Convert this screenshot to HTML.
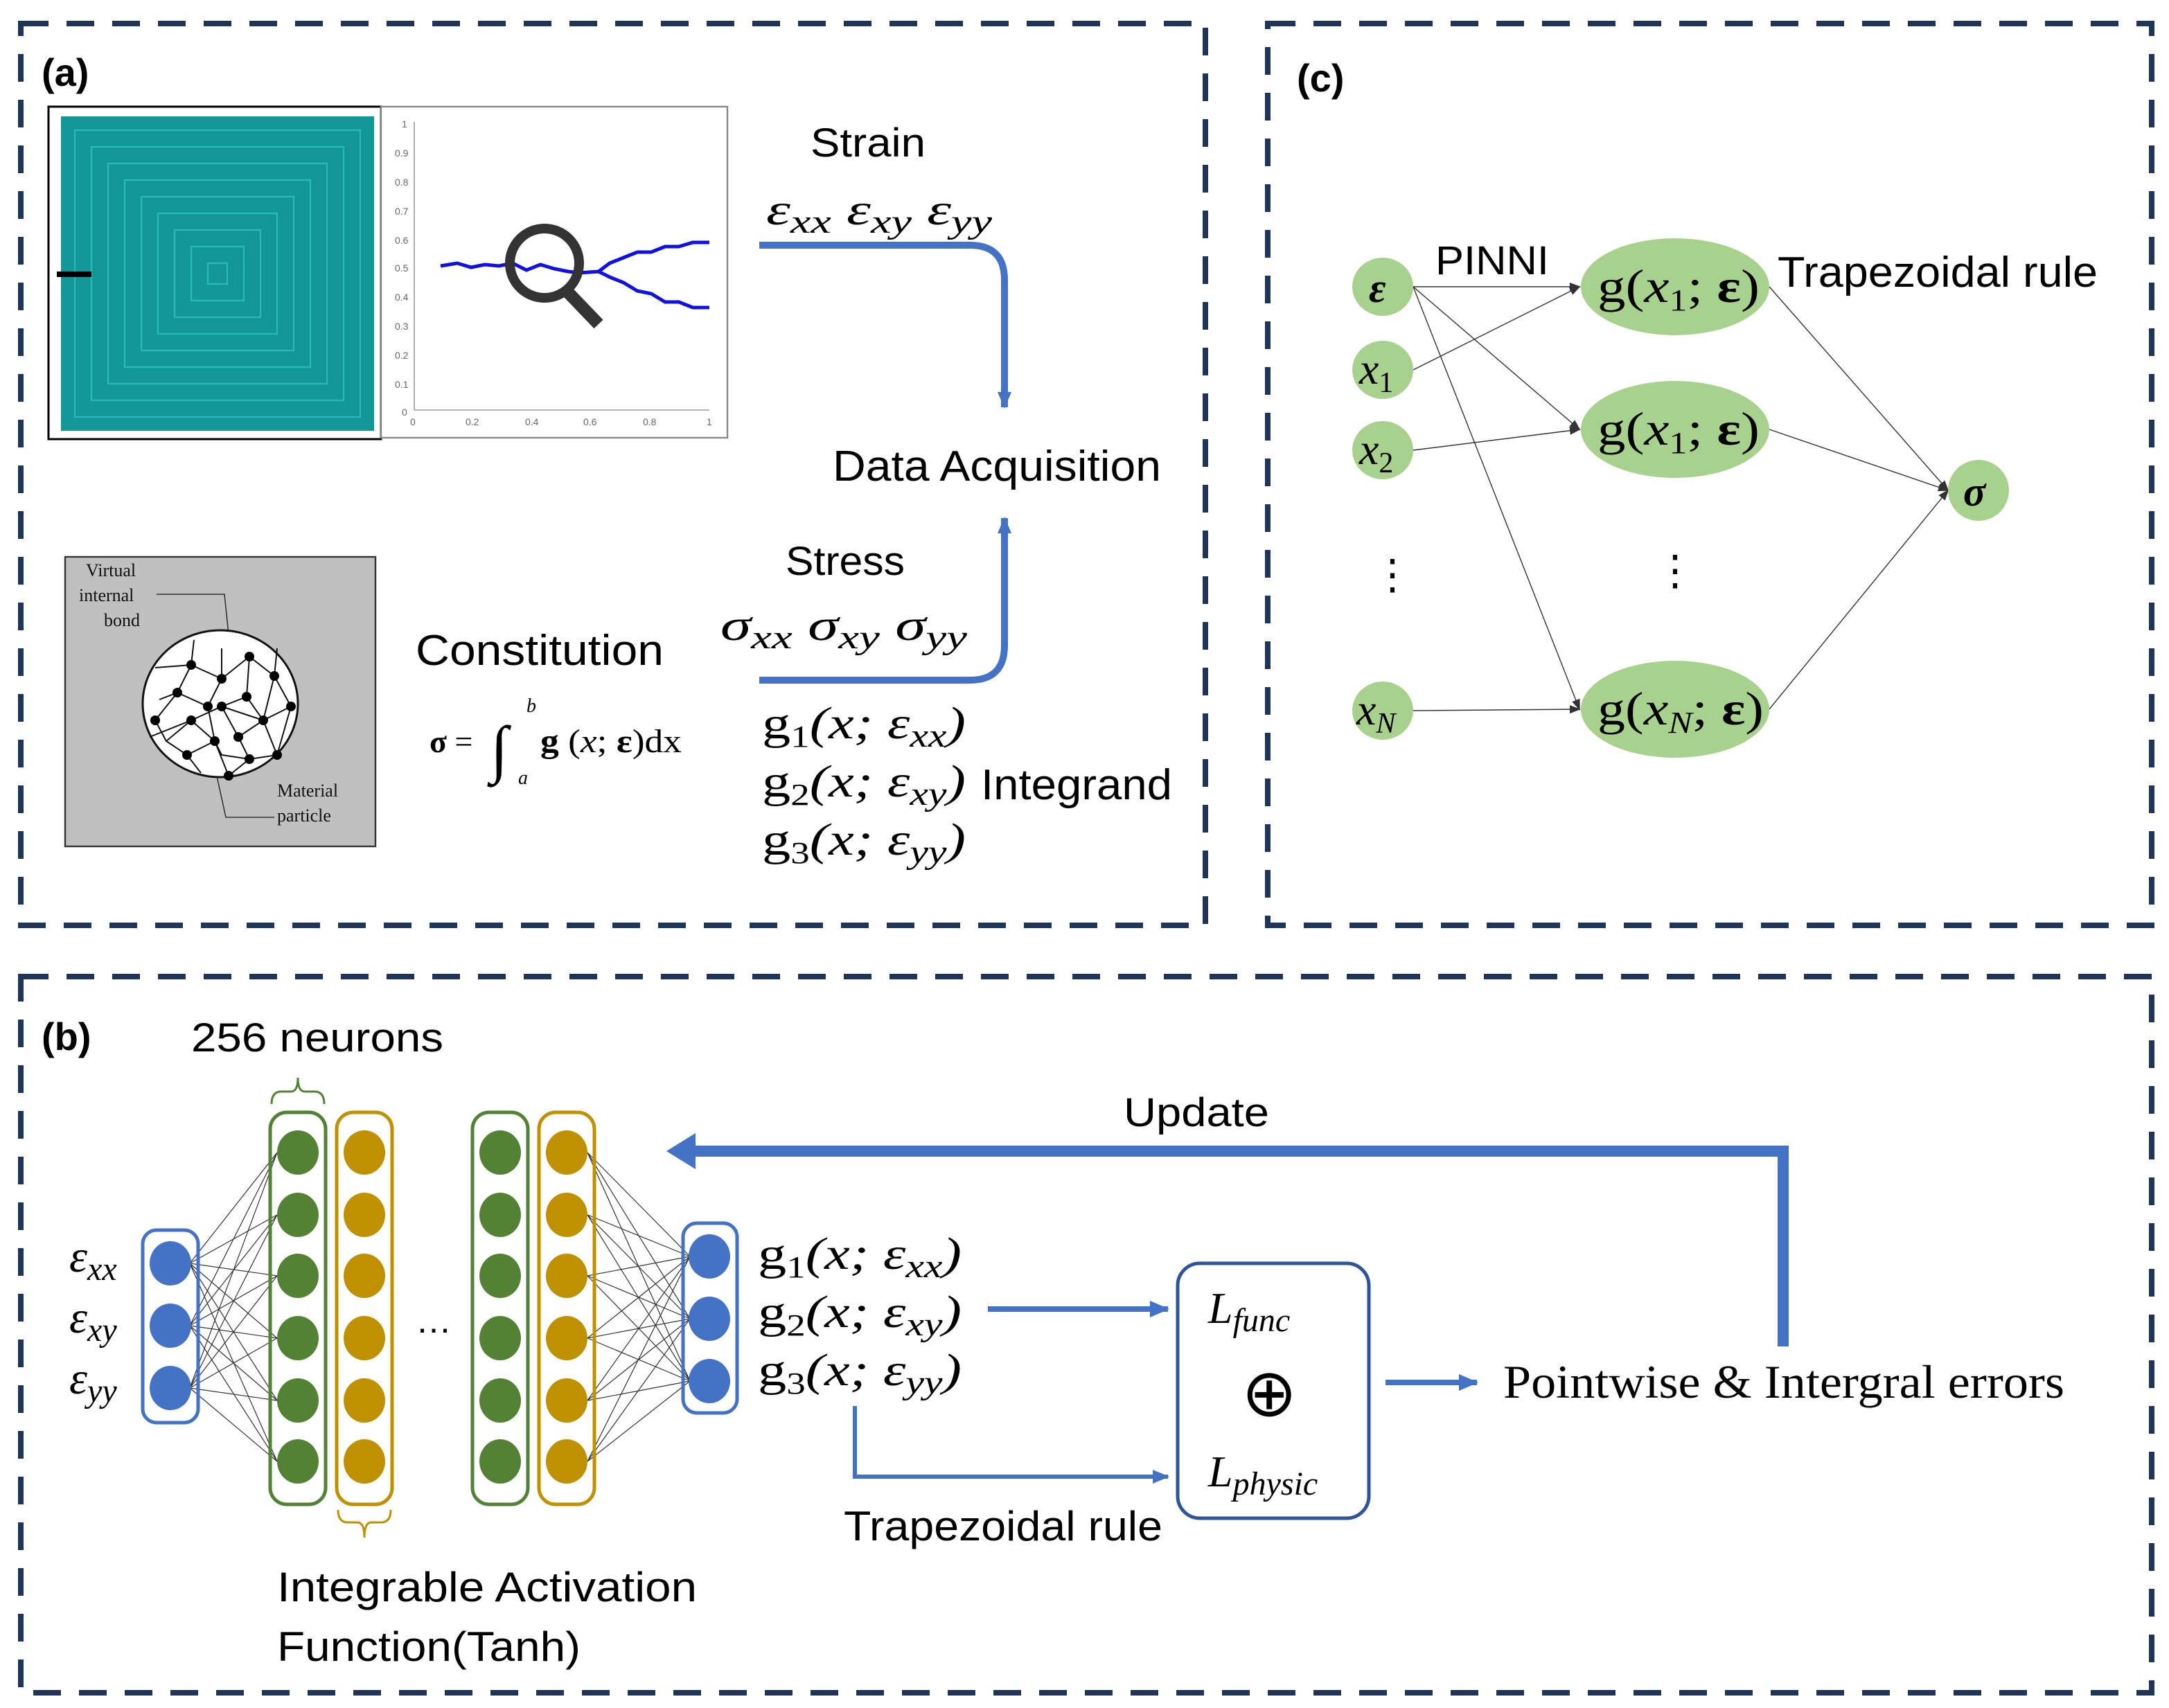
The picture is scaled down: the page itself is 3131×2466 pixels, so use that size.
<!DOCTYPE html>
<html><head><meta charset="utf-8"><style>
html,body{margin:0;padding:0;background:#fff;}
svg{display:block;}
.s{font-family:"Liberation Sans",sans-serif;}
.m{font-family:"Liberation Serif",serif;font-style:italic;}
.r{font-family:"Liberation Serif",serif;}
</style></head><body>
<svg width="3131" height="2466" viewBox="0 0 1565.5 1233" xmlns="http://www.w3.org/2000/svg">
<defs>
<marker id="ab" markerWidth="14" markerHeight="12" refX="13" refY="6" orient="auto" markerUnits="userSpaceOnUse"><path d="M0,0 L14,6 L0,12 Z" fill="#4472c4"/></marker>
<marker id="as" markerWidth="12" markerHeight="10" refX="11" refY="5" orient="auto" markerUnits="userSpaceOnUse"><path d="M0,0 L12,5 L0,10 Z" fill="#4472c4"/></marker>
<marker id="ak" markerWidth="8" markerHeight="8" refX="7" refY="4" orient="auto" markerUnits="userSpaceOnUse"><path d="M0,1 L8,4 L0,7 Z" fill="#333"/></marker>
</defs>
<g fill="none" stroke="#1f3456" stroke-width="4" stroke-dasharray="20 13">
<rect x="15" y="17" width="855" height="651"/>
<rect x="915" y="17" width="638" height="651"/>
<rect x="15" y="705" width="1538" height="517"/>
</g>
<!-- (a) -->
<text x="30" y="62" class="s" font-size="28" font-weight="bold">(a)</text>
<rect x="35" y="77" width="240" height="240" fill="#fff" stroke="#000" stroke-width="1.5"/>
<rect x="44" y="84" width="226" height="227" fill="#139696"/>
<g fill="none" stroke="#2fc0c0" stroke-width="1.2" opacity="0.8">
<rect x="54" y="94" width="206" height="207"/><rect x="66" y="106" width="182" height="183"/><rect x="78" y="118" width="158" height="159"/><rect x="90" y="130" width="134" height="135"/><rect x="102" y="142" width="110" height="111"/><rect x="114" y="154" width="86" height="87"/><rect x="126" y="166" width="62" height="63"/><rect x="138" y="178" width="38" height="39"/><rect x="150" y="190" width="14" height="15"/>
</g>
<line x1="41" y1="198" x2="66" y2="198" stroke="#000" stroke-width="4"/>
<rect x="275" y="77" width="250" height="239" fill="#fff" stroke="#888" stroke-width="1.2"/>
<g stroke="#999" stroke-width="0.8" fill="none"><line x1="299" y1="88" x2="299" y2="296"/><line x1="299" y1="296" x2="512" y2="296"/></g>
<g class="s" font-size="7" fill="#666">
<text x="290" y="92">1</text><text x="285" y="113">0.9</text><text x="285" y="134">0.8</text><text x="285" y="155">0.7</text><text x="285" y="176">0.6</text><text x="285" y="196">0.5</text><text x="285" y="217">0.4</text><text x="285" y="238">0.3</text><text x="285" y="259">0.2</text><text x="285" y="280">0.1</text><text x="290" y="300">0</text>
<text x="296" y="307">0</text><text x="336" y="307">0.2</text><text x="379" y="307">0.4</text><text x="421" y="307">0.6</text><text x="464" y="307">0.8</text><text x="510" y="307">1</text>
</g>
<path d="M318,192 L330,190 L340,193 L350,191 L360,192 L370,190 L380,195 L390,191 L400,194 L410,196 L418,197 L432,196 L440,190 L450,186 L460,182 L470,182 L480,178 L490,178 L500,175 L512,175" fill="none" stroke="#1010e0" stroke-width="2.5"/>
<path d="M432,196 L440,200 L450,204 L460,210 L470,212 L480,218 L490,218 L500,222 L512,222" fill="none" stroke="#1010e0" stroke-width="2.5"/>
<circle cx="393" cy="190" r="25" fill="none" stroke="#333" stroke-width="7"/>
<line x1="409" y1="210" x2="432" y2="234" stroke="#333" stroke-width="9"/>
<text x="585" y="113" class="s" font-size="29" textLength="83" lengthAdjust="spacingAndGlyphs">Strain</text>
<text x="553" y="162" class="m" font-size="32" textLength="163" lengthAdjust="spacingAndGlyphs">ε<tspan font-size="24" dy="6">xx</tspan><tspan dy="-6"> ε</tspan><tspan font-size="24" dy="6">xy</tspan><tspan dy="-6"> ε</tspan><tspan font-size="24" dy="6">yy</tspan></text>
<path d="M548,177 L700,177 Q725,177 725,202 L725,294" fill="none" stroke="#4472c4" stroke-width="5" marker-end="url(#as)"/>
<text x="601" y="347" class="s" font-size="31" textLength="237" lengthAdjust="spacingAndGlyphs">Data Acquisition</text>
<text x="567" y="415" class="s" font-size="29" textLength="86" lengthAdjust="spacingAndGlyphs">Stress</text>
<text x="520" y="462" class="m" font-size="32" textLength="178" lengthAdjust="spacingAndGlyphs">σ<tspan font-size="24" dy="6">xx</tspan><tspan dy="-6"> σ</tspan><tspan font-size="24" dy="6">xy</tspan><tspan dy="-6"> σ</tspan><tspan font-size="24" dy="6">yy</tspan></text>
<path d="M548,491 L700,491 Q725,491 725,466 L725,374" fill="none" stroke="#4472c4" stroke-width="5" marker-end="url(#as)"/>
<rect x="47" y="402" width="224" height="209" fill="#c0c0c0" stroke="#333" stroke-width="1.2"/>
<g class="r" font-size="13" fill="#111"><text x="62" y="416">Virtual</text><text x="57" y="434">internal</text><text x="75" y="452">bond</text><text x="200" y="575">Material</text><text x="200" y="593">particle</text></g>
<path d="M113,429 L162,429 L165,458 M156,558 L163,590 L198,590" fill="none" stroke="#333" stroke-width="0.8"/>
<ellipse cx="159" cy="508" rx="56" ry="53" fill="#fff" stroke="#111" stroke-width="1.5"/>
<g stroke="#111" stroke-width="1" fill="none">
<path d="M112,482 L138,480 L160,490 L180,474 L198,488 L210,510 L190,520 L160,510 L138,520 L108,532 M138,480 L128,500 L112,520 M160,490 L150,510 L155,535 L135,545 L120,535 L138,520 M180,474 L178,503 L190,520 L200,545 L180,548 L160,545 L155,535 M178,503 L160,510 M198,488 L190,520 M128,500 L150,510 M138,520 L155,535 M180,548 L165,560 L155,535 M135,545 L145,558 M160,468 L160,490 M140,462 L138,480 M200,468 L198,488 M115,505 L128,500 M172,532 L160,510 M172,532 L190,520 M172,532 L180,548 M112,520 L120,535 M210,510 L200,545"/>
</g>
<g fill="#000"><circle cx="138" cy="480" r="3.5"/><circle cx="160" cy="490" r="3.5"/><circle cx="180" cy="474" r="3.5"/><circle cx="198" cy="488" r="3.5"/><circle cx="128" cy="500" r="3.5"/><circle cx="150" cy="510" r="3.5"/><circle cx="178" cy="503" r="3.5"/><circle cx="210" cy="510" r="3.5"/><circle cx="112" cy="520" r="3.5"/><circle cx="138" cy="520" r="3.5"/><circle cx="160" cy="510" r="3.5"/><circle cx="190" cy="520" r="3.5"/><circle cx="155" cy="535" r="3.5"/><circle cx="200" cy="545" r="3.5"/><circle cx="135" cy="545" r="3.5"/><circle cx="180" cy="548" r="3.5"/><circle cx="165" cy="560" r="3.5"/><circle cx="172" cy="532" r="3.5"/></g>
<text x="300" y="480" class="s" font-size="31" textLength="179" lengthAdjust="spacingAndGlyphs">Constitution</text>
<text x="310" y="543" class="r" font-size="23"><tspan font-weight="bold">σ</tspan> =</text>
<text x="354" y="556" class="r" font-size="46">∫</text>
<text x="380" y="514" class="m" font-size="14">b</text>
<text x="374" y="566" class="m" font-size="14">a</text>
<text x="390" y="543" class="r" font-size="24" textLength="102" lengthAdjust="spacingAndGlyphs"><tspan font-weight="bold">g</tspan> (<tspan font-style="italic">x</tspan>; <tspan font-weight="bold">ε</tspan>)dx</text>
<text x="550" y="533" class="m" font-size="33" textLength="147" lengthAdjust="spacingAndGlyphs"><tspan font-style="normal">g</tspan><tspan font-size="22" dy="6" font-style="normal">1</tspan><tspan dy="-6">(x; ε</tspan><tspan font-size="24" dy="6">xx</tspan><tspan dy="-6">)</tspan></text>
<text x="550" y="575" class="m" font-size="33" textLength="147" lengthAdjust="spacingAndGlyphs"><tspan font-style="normal">g</tspan><tspan font-size="22" dy="6" font-style="normal">2</tspan><tspan dy="-6">(x; ε</tspan><tspan font-size="24" dy="6">xy</tspan><tspan dy="-6">)</tspan></text>
<text x="708" y="577" class="s" font-size="31" textLength="138" lengthAdjust="spacingAndGlyphs">Integrand</text>
<text x="550" y="617" class="m" font-size="33" textLength="147" lengthAdjust="spacingAndGlyphs"><tspan font-style="normal">g</tspan><tspan font-size="22" dy="6" font-style="normal">3</tspan><tspan dy="-6">(x; ε</tspan><tspan font-size="24" dy="6">yy</tspan><tspan dy="-6">)</tspan></text>
<!-- (c) -->
<text x="936" y="66" class="s" font-size="28" font-weight="bold">(c)</text>
<g stroke="#333" stroke-width="0.7" fill="none" marker-end="url(#ak)">
<line x1="1020" y1="207" x2="1140" y2="207"/><line x1="1020" y1="207" x2="1140" y2="310"/><line x1="1020" y1="207" x2="1140" y2="512"/>
<line x1="1020" y1="267" x2="1140" y2="207"/><line x1="1020" y1="325" x2="1140" y2="310"/><line x1="1020" y1="513" x2="1140" y2="512"/>
<line x1="1277" y1="207" x2="1406" y2="354"/><line x1="1277" y1="310" x2="1406" y2="354"/><line x1="1277" y1="512" x2="1406" y2="354"/>
</g>
<g fill="#a9d18e">
<ellipse cx="998" cy="207" rx="22" ry="21"/><ellipse cx="998" cy="267" rx="22" ry="21"/><ellipse cx="998" cy="325" rx="22" ry="21"/><ellipse cx="998" cy="513" rx="22" ry="21"/>
<ellipse cx="1209" cy="207" rx="68" ry="35"/><ellipse cx="1209" cy="310" rx="68" ry="35"/><ellipse cx="1209" cy="512" rx="68" ry="35"/>
<ellipse cx="1428" cy="354" rx="22" ry="22"/></g>
<text x="988" y="218" class="r" font-size="30" font-weight="bold" font-style="italic">ε</text>
<text x="981" y="277" class="m" font-size="32">x<tspan font-size="21" dy="6" font-style="normal">1</tspan></text>
<text x="981" y="335" class="m" font-size="32">x<tspan font-size="21" dy="6" font-style="normal">2</tspan></text>
<text x="979" y="523" class="m" font-size="32">x<tspan font-size="21" dy="6">N</tspan></text>
<text x="1417" y="365" class="r" font-size="30" font-weight="bold" font-style="italic">σ</text>
<text x="990" y="425" class="s" font-size="30">⋮</text>
<text x="1194" y="422" class="s" font-size="30">⋮</text>
<text x="1036" y="198" class="s" font-size="29" textLength="82" lengthAdjust="spacingAndGlyphs">PINNI</text>
<text x="1283" y="207" class="s" font-size="31" textLength="231" lengthAdjust="spacingAndGlyphs">Trapezoidal rule</text>
<g class="r" font-size="34"><text x="1153" y="218" textLength="117" lengthAdjust="spacingAndGlyphs">g(<tspan font-style="italic">x</tspan><tspan font-size="22" dy="6">1</tspan><tspan dy="-6">; </tspan><tspan font-weight="bold">ε</tspan>)</text>
<text x="1153" y="321" textLength="117" lengthAdjust="spacingAndGlyphs">g(<tspan font-style="italic">x</tspan><tspan font-size="22" dy="6">1</tspan><tspan dy="-6">; </tspan><tspan font-weight="bold">ε</tspan>)</text>
<text x="1153" y="523" textLength="120" lengthAdjust="spacingAndGlyphs">g(<tspan font-style="italic">x</tspan><tspan font-size="22" dy="6" font-style="italic">N</tspan><tspan dy="-6">; </tspan><tspan font-weight="bold">ε</tspan>)</text></g>
<!-- (b) -->
<text x="30" y="758" class="s" font-size="28" font-weight="bold">(b)</text>
<text x="138" y="759" class="s" font-size="29" textLength="182" lengthAdjust="spacingAndGlyphs">256 neurons</text>
<path d="M196,797 Q196,788 203,788 L210,788 Q215,788 215,778 Q215,788 220,788 L227,788 Q234,788 234,797" fill="none" stroke="#548235" stroke-width="1.5"/>
<path d="M244,1090 Q244,1099 251,1099 L258,1099 Q263,1099 263,1110 Q263,1099 268,1099 L275,1099 Q282,1099 282,1090" fill="none" stroke="#bf9000" stroke-width="1.5"/>
<g stroke="#333" stroke-width="0.6">
<path d="M137,912 L200,832 M137,912 L200,877 M137,912 L200,921 M137,912 L200,966 M137,912 L200,1011 M137,912 L200,1055 M137,957 L200,832 M137,957 L200,877 M137,957 L200,921 M137,957 L200,966 M137,957 L200,1011 M137,957 L200,1055 M137,1002 L200,832 M137,1002 L200,877 M137,1002 L200,921 M137,1002 L200,966 M137,1002 L200,1011 M137,1002 L200,1055"/>
<path d="M424,832 L498,907 M424,877 L498,907 M424,921 L498,907 M424,966 L498,907 M424,1011 L498,907 M424,1055 L498,907 M424,832 L498,952 M424,877 L498,952 M424,921 L498,952 M424,966 L498,952 M424,1011 L498,952 M424,1055 L498,952 M424,832 L498,997 M424,877 L498,997 M424,921 L498,997 M424,966 L498,997 M424,1011 L498,997 M424,1055 L498,997"/>
</g>
<g fill="none" stroke-width="2.5">
<rect x="103" y="888" width="40" height="139" rx="10" stroke="#4472c4"/>
<rect x="195" y="803" width="40" height="283" rx="12" stroke="#548235"/>
<rect x="243" y="803" width="40" height="283" rx="12" stroke="#bf9000"/>
<rect x="341" y="803" width="40" height="283" rx="12" stroke="#548235"/>
<rect x="389" y="803" width="40" height="283" rx="12" stroke="#bf9000"/>
<rect x="493" y="883" width="39" height="137" rx="10" stroke="#4472c4"/>
</g>
<g fill="#4472c4"><ellipse cx="123" cy="912" rx="15" ry="16"/><ellipse cx="123" cy="957" rx="15" ry="16"/><ellipse cx="123" cy="1002" rx="15" ry="16"/>
<ellipse cx="512" cy="907" rx="15" ry="16"/><ellipse cx="512" cy="952" rx="15" ry="16"/><ellipse cx="512" cy="997" rx="15" ry="16"/></g>
<g fill="#548235"><ellipse cx="215" cy="832" rx="15" ry="16"/><ellipse cx="215" cy="877" rx="15" ry="16"/><ellipse cx="215" cy="921" rx="15" ry="16"/><ellipse cx="215" cy="966" rx="15" ry="16"/><ellipse cx="215" cy="1011" rx="15" ry="16"/><ellipse cx="215" cy="1055" rx="15" ry="16"/>
<ellipse cx="361" cy="832" rx="15" ry="16"/><ellipse cx="361" cy="877" rx="15" ry="16"/><ellipse cx="361" cy="921" rx="15" ry="16"/><ellipse cx="361" cy="966" rx="15" ry="16"/><ellipse cx="361" cy="1011" rx="15" ry="16"/><ellipse cx="361" cy="1055" rx="15" ry="16"/></g>
<g fill="#bf9000"><ellipse cx="263" cy="832" rx="15" ry="16"/><ellipse cx="263" cy="877" rx="15" ry="16"/><ellipse cx="263" cy="921" rx="15" ry="16"/><ellipse cx="263" cy="966" rx="15" ry="16"/><ellipse cx="263" cy="1011" rx="15" ry="16"/><ellipse cx="263" cy="1055" rx="15" ry="16"/>
<ellipse cx="409" cy="832" rx="15" ry="16"/><ellipse cx="409" cy="877" rx="15" ry="16"/><ellipse cx="409" cy="921" rx="15" ry="16"/><ellipse cx="409" cy="966" rx="15" ry="16"/><ellipse cx="409" cy="1011" rx="15" ry="16"/><ellipse cx="409" cy="1055" rx="15" ry="16"/></g>
<text x="300" y="962" class="s" font-size="26">…</text>
<g class="m" font-size="33"><text x="50" y="918">ε<tspan font-size="24" dy="6">xx</tspan></text><text x="50" y="962">ε<tspan font-size="24" dy="6">xy</tspan></text><text x="50" y="1006">ε<tspan font-size="24" dy="6">yy</tspan></text></g>
<g class="m" font-size="33">
<text x="547" y="916" textLength="147" lengthAdjust="spacingAndGlyphs"><tspan font-style="normal">g</tspan><tspan font-size="22" dy="6" font-style="normal">1</tspan><tspan dy="-6">(x; ε</tspan><tspan font-size="24" dy="6">xx</tspan><tspan dy="-6">)</tspan></text>
<text x="547" y="958" textLength="147" lengthAdjust="spacingAndGlyphs"><tspan font-style="normal">g</tspan><tspan font-size="22" dy="6" font-style="normal">2</tspan><tspan dy="-6">(x; ε</tspan><tspan font-size="24" dy="6">xy</tspan><tspan dy="-6">)</tspan></text>
<text x="547" y="1000" textLength="147" lengthAdjust="spacingAndGlyphs"><tspan font-style="normal">g</tspan><tspan font-size="22" dy="6" font-style="normal">3</tspan><tspan dy="-6">(x; ε</tspan><tspan font-size="24" dy="6">yy</tspan><tspan dy="-6">)</tspan></text>
</g>
<path d="M713,945 L843,945" stroke="#4472c4" stroke-width="4" marker-end="url(#ab)"/>
<path d="M617,1015 L617,1066 L843,1066" fill="none" stroke="#4472c4" stroke-width="3" marker-end="url(#as)"/>
<rect x="850" y="912" width="138" height="184" rx="16" fill="none" stroke="#2f5597" stroke-width="2.5"/>
<text x="872" y="955" class="m" font-size="32">L<tspan font-size="24" dy="6">func</tspan></text>
<text x="896" y="1022" class="r" font-size="48">⊕</text>
<text x="872" y="1073" class="m" font-size="32">L<tspan font-size="24" dy="6">physic</tspan></text>
<text x="609" y="1112" class="s" font-size="30" textLength="230" lengthAdjust="spacingAndGlyphs">Trapezoidal rule</text>
<path d="M1000,998 L1066,998" stroke="#4472c4" stroke-width="4" marker-end="url(#ab)"/>
<text x="1085" y="1009" class="r" font-size="34" textLength="405" lengthAdjust="spacingAndGlyphs">Pointwise &amp; Intergral errors</text>
<path d="M1287,972 L1287,831 L500,831" fill="none" stroke="#4472c4" stroke-width="8"/>
<path d="M481,831 L502,818 L502,844 Z" fill="#4472c4"/>
<text x="811" y="813" class="s" font-size="29" textLength="105" lengthAdjust="spacingAndGlyphs">Update</text>
<text x="200" y="1156" class="s" font-size="30" textLength="303" lengthAdjust="spacingAndGlyphs">Integrable Activation</text>
<text x="200" y="1199" class="s" font-size="30" textLength="219" lengthAdjust="spacingAndGlyphs">Function(Tanh)</text>
</svg>
</body></html>
